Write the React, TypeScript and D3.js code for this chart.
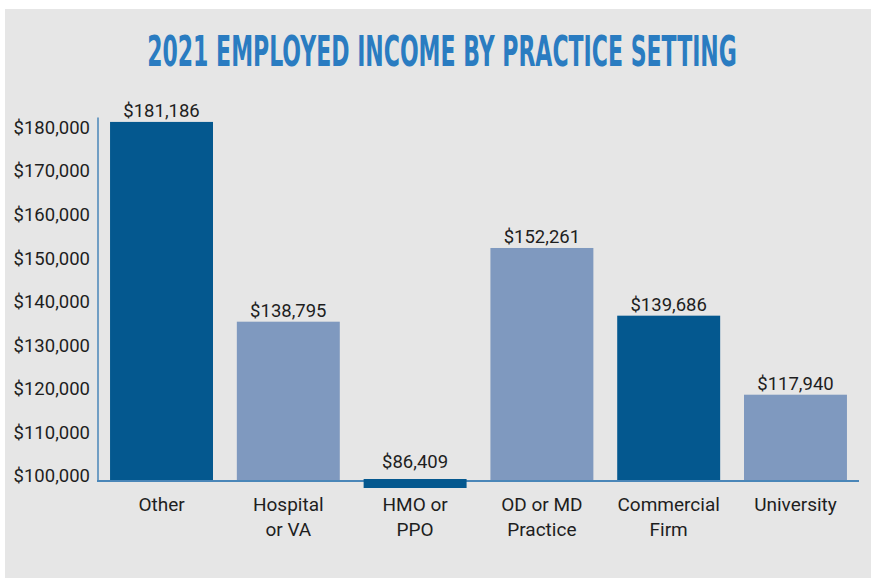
import React, { useEffect, useRef } from 'react';
import * as d3 from 'd3';

// 2021 employed income by practice setting - bar chart drawn with D3
const categories: string[][] = [
  ['Other'],
  ['Hospital', 'or VA'],
  ['HMO or', 'PPO'],
  ['OD or MD', 'Practice'],
  ['Commercial', 'Firm'],
  ['University'],
];
// values printed above each bar
const incomeLabels: number[] = [181186, 138795, 86409, 152261, 139686, 117940];
// bar heights as drawn in the source chart
const plottedIncome: number[] = [181186, 135350, 86409, 152261, 136730, 118600];
const barShade: string[] = ['dark', 'light', 'dark', 'light', 'dark', 'light'];
const yTicks: number[] = [100000, 110000, 120000, 130000, 140000, 150000, 160000, 170000, 180000];
const yDomain: number[] = [98800, 182200];

const W = 874;
const H = 578;

export default function App() {
  const svgRef = useRef<SVGSVGElement | null>(null);

  useEffect(() => {
    if (!svgRef.current) return;
    const svg = d3.select(svgRef.current);
    svg.selectAll('*').remove();

    const font = 'Roboto, "Noto Sans", sans-serif';
    const colors: Record<string, string> = { dark: '#04588f', light: '#7f99bf' };
    const axisColor = '#4a86b8';

    // panel background
    svg.append('rect').attr('width', W).attr('height', H).attr('fill', '#ffffff');
    svg.append('rect').attr('x', 5).attr('y', 9).attr('width', 866).attr('height', H - 9).attr('fill', '#e6e6e6');

    // title - condensed by measuring and squeezing horizontally
    const title = svg.append('text')
      .attr('x', 0)
      .attr('y', 0)
      .attr('text-anchor', 'middle')
      .attr('font-family', '"Liberation Sans Narrow", "DejaVu Sans Condensed", Roboto, sans-serif')
      .attr('font-weight', 700)
      .attr('font-size', 42)
      .attr('fill', '#2a7cc1')
      .text('2021 EMPLOYED INCOME BY PRACTICE SETTING');
    const natural = (title.node() as SVGTextElement).getComputedTextLength() || 590;
    title.attr('transform', 'translate(442,66) scale(' + Math.min(1, 590 / natural) + ',1)');

    const keys = categories.map((c) => c.join(' '));
    const x = d3.scaleBand().domain(keys).range([98, 859]).paddingInner(0.188).paddingOuter(0.095);
    const y = d3.scaleLinear().domain(yDomain).range([481, 117.5]);
    const y0 = y(yDomain[0]);

    // y tick labels (no tick marks)
    svg.append('g')
      .selectAll('text')
      .data(yTicks)
      .join('text')
      .attr('x', 90)
      .attr('y', (d) => y(d))
      .attr('dy', '0.36em')
      .attr('text-anchor', 'end')
      .attr('font-family', font)
      .attr('font-size', 18.5)
      .attr('fill', '#1e1e1e')
      .text((d) => '$' + d3.format(',')(d));

    const rows = keys.map((k, i) => ({
      key: k,
      lines: categories[i],
      value: plottedIncome[i],
      label: incomeLabels[i],
      shade: barShade[i],
      clipped: plottedIncome[i] < yDomain[0],
    }));

    // bars
    svg.append('g')
      .selectAll('rect')
      .data(rows.filter((r) => !r.clipped))
      .join('rect')
      .attr('x', (d) => x(d.key) as number)
      .attr('y', (d) => y(d.value))
      .attr('width', x.bandwidth())
      .attr('height', (d) => y0 - y(d.value))
      .attr('fill', (d) => colors[d.shade]);

    // axes lines
    svg.append('line').attr('x1', 98).attr('x2', 98).attr('y1', 117.5).attr('y2', y0)
      .attr('stroke', axisColor).attr('stroke-width', 1.5);
    svg.append('line').attr('x1', 97).attr('x2', 859).attr('y1', y0).attr('y2', y0)
      .attr('stroke', axisColor).attr('stroke-width', 2);

    // values below the axis minimum get a thin strip on the baseline
    svg.append('g')
      .selectAll('rect')
      .data(rows.filter((r) => r.clipped))
      .join('rect')
      .attr('x', (d) => x(d.key) as number)
      .attr('y', y0 - 2)
      .attr('width', x.bandwidth())
      .attr('height', 9)
      .attr('fill', (d) => colors[d.shade]);

    // value labels
    svg.append('g')
      .selectAll('text')
      .data(rows)
      .join('text')
      .attr('x', (d) => (x(d.key) as number) + x.bandwidth() / 2)
      .attr('y', (d) => (d.clipped ? y0 - 13 : y(d.value) - 5))
      .attr('text-anchor', 'middle')
      .attr('font-family', font)
      .attr('font-size', 18.5)
      .attr('fill', '#1e1e1e')
      .text((d) => '$' + d3.format(',')(d.label));

    // category labels, two lines where needed
    const cat = svg.append('g')
      .selectAll('text')
      .data(rows)
      .join('text')
      .attr('x', (d) => (x(d.key) as number) + x.bandwidth() / 2)
      .attr('y', 511)
      .attr('text-anchor', 'middle')
      .attr('font-family', font)
      .attr('font-size', 19)
      .attr('fill', '#1e1e1e');
    cat.selectAll('tspan')
      .data((d) => d.lines.map((line) => ({ line, cx: (x(d.key) as number) + x.bandwidth() / 2 })))
      .join('tspan')
      .attr('x', (t) => t.cx)
      .attr('dy', (_t, i) => (i === 0 ? 0 : 25))
      .text((t) => t.line);
  }, []);

  return (
    <svg
      ref={svgRef}
      width={W}
      height={H}
      style={{ position: 'absolute', left: 0, top: 0, display: 'block' }}
    />
  );
}
